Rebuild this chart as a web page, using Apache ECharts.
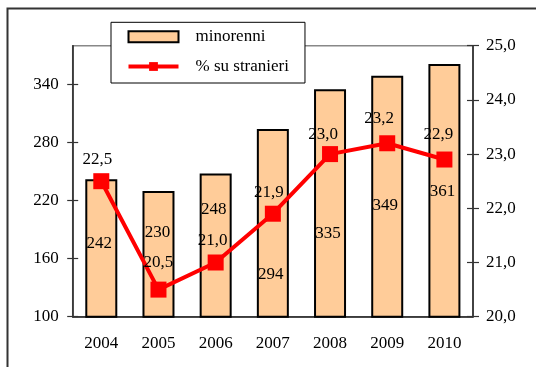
<!DOCTYPE html>
<html>
<head>
<meta charset="utf-8">
<script src="https://cdn.jsdelivr.net/npm/echarts@6/dist/echarts.min.js"></script>
<style>
  html, body { margin: 0; padding: 0; background: #fff; }
  #chart { width: 536px; height: 367px; }
</style>
</head>
<body>
<div id="chart"></div>
<script>
// Minori stranieri residenti, 2004-2010
const years = ['2004', '2005', '2006', '2007', '2008', '2009', '2010'];
const minorenni = [242, 230, 248, 294, 335, 349, 361];
const quotaStranieri = [22.5, 20.5, 21.0, 21.9, 23.0, 23.2, 22.9];
const leftTicks = [100, 160, 220, 280, 340];

// label placement tweaks (pixels), kept apart from the values
const barLabelShift = [[-2, -5], [-1, -22], [-2, -36], [-2, 51], [-2, 30], [-2, 9], [-2, 1]];
const lineLabelShift = [[-4, 0], [0, -6], [-3, 0], [-4, 0], [-7, 2], [-8, -3], [-6, -3]];

const FONT = "'Liberation Serif', 'Times New Roman', serif";
const fmt = v => v.toFixed(1).replace('.', ',');

const chart = echarts.init(document.getElementById('chart'), null, { renderer: 'canvas' });

const tickCommon = { lineStyle: { color: '#333', width: 1.2 } };

chart.setOption({
  animation: false,
  textStyle: { fontFamily: FONT, fontSize: 17, color: '#000' },
  grid: {
    left: 72.7, right: 63, top: 45.7, bottom: 50.3,
    show: true, borderColor: '#888', borderWidth: 1.5, backgroundColor: 'transparent'
  },
  graphic: [{
    type: 'polyline',
    shape: { points: [[7.5, 367], [7.5, 8.5], [536, 8.5]] },
    style: { stroke: '#333', lineWidth: 2, fill: null },
    z: -1
  }],
  legend: {
    orient: 'vertical',
    left: 111, top: 22.3,
    padding: [6, 16, 8, 15.5],
    itemWidth: 50, itemHeight: 11, itemGap: 12.7,
    backgroundColor: '#fff', borderColor: '#000', borderWidth: 1,
    textStyle: { fontFamily: FONT, fontSize: 17, color: '#000', padding: [0, 0, 0, 12] },
    data: [
      { name: 'minorenni', icon: 'rect', itemStyle: { borderColor: '#000', borderWidth: 2 } },
      { name: '% su stranieri', lineStyle: { width: 4, color: '#FF0000' } }
    ]
  },
  xAxis: [{
    type: 'category', data: years, boundaryGap: true,
    axisLine: { lineStyle: { color: '#222', width: 1.5 } },
    axisTick: { length: 6, ...tickCommon },
    axisLabel: { margin: 18, fontFamily: FONT, fontSize: 17, color: '#000' }
  }, {
    type: 'category', data: years, boundaryGap: true, position: 'bottom',
    axisLine: { show: false },
    axisTick: { inside: true, length: 4, ...tickCommon },
    axisLabel: { show: false }
  }],
  yAxis: [{
    type: 'value', min: 100, max: 380, interval: 60, position: 'left',
    axisLine: { show: true, lineStyle: { color: '#222', width: 1.5 } },
    axisTick: { show: true, length: 5.5, customValues: leftTicks, ...tickCommon },
    axisLabel: { margin: 14, customValues: leftTicks, fontFamily: FONT, fontSize: 17, color: '#000' },
    splitLine: { show: false }
  }, {
    type: 'value', min: 20, max: 25, interval: 1, position: 'right',
    axisLine: { show: true, lineStyle: { color: '#222', width: 1.5 } },
    axisTick: { show: true, length: 6, ...tickCommon },
    axisLabel: { margin: 13, formatter: fmt, fontFamily: FONT, fontSize: 17, color: '#000' },
    splitLine: { show: false }
  }, {
    type: 'value', min: 100, max: 380, interval: 60, position: 'left',
    axisLine: { show: false },
    axisTick: { show: true, inside: true, length: 5.5, customValues: leftTicks, ...tickCommon },
    axisLabel: { show: false },
    splitLine: { show: false }
  }, {
    type: 'value', min: 20, max: 25, interval: 1, position: 'right',
    axisLine: { show: false },
    axisTick: { show: true, inside: true, length: 6, ...tickCommon },
    axisLabel: { show: false },
    splitLine: { show: false }
  }],
  series: [{
    name: 'minorenni',
    type: 'bar',
    xAxisIndex: 0, yAxisIndex: 0,
    barWidth: 32,
    itemStyle: { color: '#FFCC99', borderColor: '#000', borderWidth: 2 },
    data: minorenni.map((v, i) => ({
      value: v,
      label: { offset: barLabelShift[i] }
    })),
    label: {
      show: true, position: 'inside',
      fontFamily: FONT, fontSize: 17, color: '#000'
    },
    z: 2
  }, {
    name: '% su stranieri',
    type: 'line',
    xAxisIndex: 0, yAxisIndex: 1,
    symbol: 'rect', symbolSize: 16,
    lineStyle: { color: '#FF0000', width: 4 },
    itemStyle: { color: '#FF0000' },
    data: quotaStranieri.map((v, i) => ({
      value: v,
      label: { offset: lineLabelShift[i] }
    })),
    label: {
      show: true, position: 'top', distance: 5,
      formatter: p => fmt(p.value),
      fontFamily: FONT, fontSize: 17, color: '#000'
    },
    z: 3
  }]
});
</script>
</body>
</html>
